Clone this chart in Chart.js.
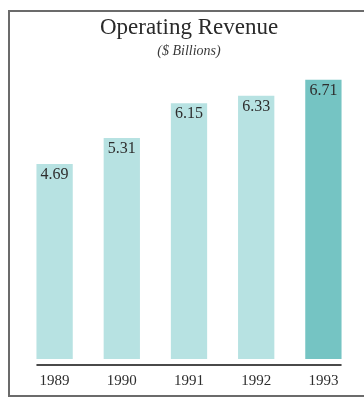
<!DOCTYPE html>
<html>
<head>
<meta charset="utf-8">
<title>Operating Revenue</title>
<script src="https://cdn.jsdelivr.net/npm/chart.js@4/dist/chart.umd.min.js"></script>
<style>
    body { margin: 0; background: #fff; }
    .frame {
        position: absolute;
        left: 8px;
        top: 10px;
        right: 0;
        height: 383px;
        border-left: 2px solid #6b6b6b;
        border-top: 2px solid #6b6b6b;
        border-bottom: 2px solid #6b6b6b;
    }
    .chart-box {
        position: absolute;
        left: 0;
        top: 0;
        width: 364px;
        height: 398px;
    }
</style>
</head>
<body>
<div class="frame"></div>
<div class="chart-box">
    <canvas id="revenueChart"></canvas>
</div>
<script>
// Revenue per year, $ billions
const years = ['1989', '1990', '1991', '1992', '1993'];
const revenue = [4.69, 5.31, 6.15, 6.33, 6.71];
const barColors = ['#b7e2e2', '#b7e2e2', '#b7e2e2', '#b7e2e2', '#75c4c3'];

const serif = "'Liberation Serif', 'DejaVu Serif', serif";

// Value printed inside the top of each bar, plus the short baseline under the bars
const barExtras = {
    id: 'barExtras',
    afterDatasetsDraw(chart) {
        const ctx = chart.ctx;
        const bars = chart.getDatasetMeta(0).data;
        const yScale = chart.scales.y;

        ctx.save();
        ctx.fillStyle = '#2e2e2e';
        ctx.font = '16px ' + serif;
        ctx.textAlign = 'center';
        ctx.textBaseline = 'middle';
        bars.forEach((bar, i) => {
            ctx.fillText(revenue[i].toFixed(2), bar.x, bar.y + 11);
        });

        const first = bars[0];
        const last = bars[bars.length - 1];
        const y = yScale.getPixelForValue(0) + 6;
        ctx.strokeStyle = '#4a4a4a';
        ctx.lineWidth = 2;
        ctx.beginPath();
        ctx.moveTo(first.x - first.width / 2, y);
        ctx.lineTo(last.x + last.width / 2, y);
        ctx.stroke();
        ctx.restore();
    }
};

const ctx = document.getElementById('revenueChart').getContext('2d');
const revenueChart = new Chart(ctx, {
    type: 'bar',
    data: {
        labels: years,
        datasets: [{
            label: 'Operating Revenue',
            data: revenue,
            backgroundColor: barColors,
            borderWidth: 0,
            barPercentage: 0.54,
            categoryPercentage: 1
        }]
    },
    options: {
        responsive: true,
        maintainAspectRatio: false,
        animation: false,
        layout: {
            padding: { left: 21, right: 7, top: 0, bottom: -5 }
        },
        plugins: {
            legend: { display: false },
            tooltip: { enabled: false },
            title: {
                display: true,
                text: 'Operating Revenue',
                color: '#2a2a2a',
                font: { family: serif, size: 23, weight: 'normal', lineHeight: 1.2 },
                padding: { top: 14, bottom: 1 }
            },
            subtitle: {
                display: true,
                text: '($ Billions)',
                color: '#3a3a3a',
                font: { family: serif, size: 14, style: 'italic', lineHeight: 1.2 },
                padding: { top: 0, bottom: 3 }
            }
        },
        scales: {
            x: {
                grid: { display: false, drawTicks: false },
                border: { display: false },
                ticks: {
                    color: '#2e2e2e',
                    padding: 13,
                    font: { family: serif, size: 15, lineHeight: 1.2 }
                }
            },
            y: {
                display: false,
                min: 0,
                max: 7.13
            }
        }
    },
    plugins: [barExtras]
});
</script>
</body>
</html>
